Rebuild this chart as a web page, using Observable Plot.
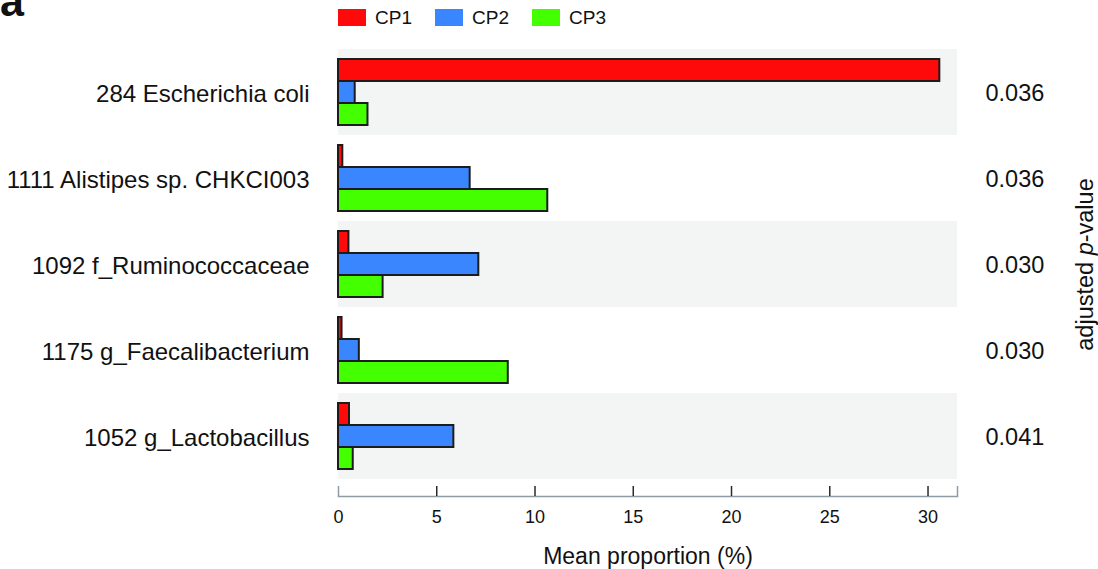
<!DOCTYPE html>
<html>
<head>
<meta charset="utf-8">
<script src="https://cdn.jsdelivr.net/npm/d3@7"></script>
<script src="https://cdn.jsdelivr.net/npm/@observablehq/plot@0.6"></script>
<style>
  html, body { margin: 0; padding: 0; background: #fff; }
  #wrap { position: relative; width: 1098px; height: 569px; overflow: hidden;
          font-family: "Liberation Sans", Arial, Helvetica, sans-serif; color: #111; }
  #head { position: relative; height: 40px; }
  #panel { position: absolute; left: 0px; top: -20px; font-family: "Liberation Sans", Arial, sans-serif;
           font-size: 43px; font-weight: bold; line-height: 1; }
  #legend { position: absolute; left: 338px; top: 9px; display: flex; }
  .item { display: flex; align-items: center; width: 97px; height: 17px; }
  .swatch { width: 28px; height: 17px; margin-right: 9px; }
  .name { font-family: "Liberation Sans", Arial, sans-serif; font-size: 19px; line-height: 17px; }
  #chart svg { display: block; }
</style>
</head>
<body>
<div id="wrap">
  <div id="head">
    <div id="panel">a</div>
    <div id="legend"></div>
  </div>
  <div id="chart"></div>
</div>
<script>
// Taxa (rows, top to bottom) and the three clusters
const taxa = [
  "284 Escherichia coli",
  "1111 Alistipes sp. CHKCI003",
  "1092 f_Ruminococcaceae",
  "1175 g_Faecalibacterium",
  "1052 g_Lactobacillus"
];
const groups = ["CP1", "CP2", "CP3"];
const groupColors = ["#ff0a0a", "#3a86ff", "#44ff00"];

// Mean proportion (%) per taxon for each cluster
const cp1 = [30.6, 0.22, 0.53, 0.18, 0.56];
const cp2 = [0.85, 6.70, 7.14, 1.06, 5.87];
const cp3 = [1.50, 10.65, 2.27, 8.64, 0.75];

// Adjusted p-values shown on the right
const pValues = ["0.036", "0.036", "0.030", "0.030", "0.041"];

// x axis
const xTicks = [0, 5, 10, 15, 20, 25, 30];
const xDomain = [0, 31.5];
const xTitle = "Mean proportion (%)";

const series = [cp1, cp2, cp3];
const rows = taxa.flatMap((taxon, i) =>
  groups.map((group, j) => ({taxon, group, value: series[j][i]}))
);
const shaded = taxa.filter((d, i) => i % 2 === 0);

// legend
const legend = document.getElementById("legend");
groups.forEach((g, j) => {
  const item = document.createElement("div");
  item.className = "item";
  const sw = document.createElement("div");
  sw.className = "swatch";
  sw.style.background = groupColors[j];
  const nm = document.createElement("span");
  nm.className = "name";
  nm.textContent = g;
  item.append(sw, nm);
  legend.append(item);
});

const axisGray = "#8f9ba5";
const font = "'Liberation Sans', Arial, Helvetica, sans-serif";

const chart = Plot.plot({
  width: 1098,
  height: 529,
  marginTop: 7,
  marginBottom: 89,
  marginLeft: 338,
  marginRight: 141,
  style: {fontFamily: font, fontSize: "23px", color: "#111", background: "white", overflow: "visible"},
  x: {domain: xDomain},
  y: {domain: groups, paddingInner: 0, paddingOuter: 0.41, axis: null},
  fy: {domain: taxa, padding: 0},
  color: {domain: groups, range: groupColors},
  marks: [
    // alternating row shading
    Plot.barX(shaded, {fy: d => d, x1: () => xDomain[0], x2: () => xDomain[1], fill: "#f3f4f4"}),
    // grouped bars
    Plot.barX(rows, {fy: "taxon", y: "group", x: "value", fill: "group", stroke: "#1c1c1c", strokeWidth: 2}),
    // taxon names
    Plot.axisFy({anchor: "left", tickSize: 0, tickPadding: 29, fontSize: 24, dy: 2, label: null}),
    // p-values
    Plot.axisFy({
      anchor: "right", tickSize: 0, tickPadding: 28, fontSize: 23.5, dy: 1,
      tickFormat: t => pValues[taxa.indexOf(t)],
      label: "adjusted p-value", labelAnchor: "center", labelOffset: 135
    }),
    // x axis: baseline, domain end ticks, inner ticks, labels
    Plot.frame({anchor: "bottom", stroke: axisGray, strokeWidth: 1.5, dy: 17, facetAnchor: "bottom"}),
    Plot.axisX({ticks: xDomain, tickSize: -10, stroke: axisGray, strokeWidth: 1.5, dy: 17, tickFormat: () => "", label: null}),
    Plot.axisX({ticks: xTicks.filter(d => d > 0), tickSize: -10, stroke: "#2a2a2a", strokeWidth: 1.5, dy: 17, tickFormat: () => "", label: null}),
    Plot.axisX({ticks: xTicks, tickSize: 0, tickPadding: 14, dy: 17, fontSize: 18, tickFormat: d => String(d),
      label: xTitle, labelAnchor: "center", labelOffset: 84})
  ]
});

const ns = "http://www.w3.org/2000/svg";
chart.querySelectorAll("text").forEach(t => {
  const s = t.textContent.trim();
  // italic p in the right-hand axis label
  if (s === "adjusted p-value") {
    t.textContent = "";
    const a = document.createElementNS(ns, "tspan"); a.textContent = "adjusted ";
    const p = document.createElementNS(ns, "tspan"); p.textContent = "p"; p.setAttribute("font-style", "italic");
    const b = document.createElementNS(ns, "tspan"); b.textContent = "-value";
    t.append(a, p, b);
  }
  // x title: full size, no arrow
  if (s.startsWith(xTitle)) {
    t.textContent = xTitle;
    t.setAttribute("font-size", "23");
  }
});

document.getElementById("chart").append(chart);
</script>
</body>
</html>
